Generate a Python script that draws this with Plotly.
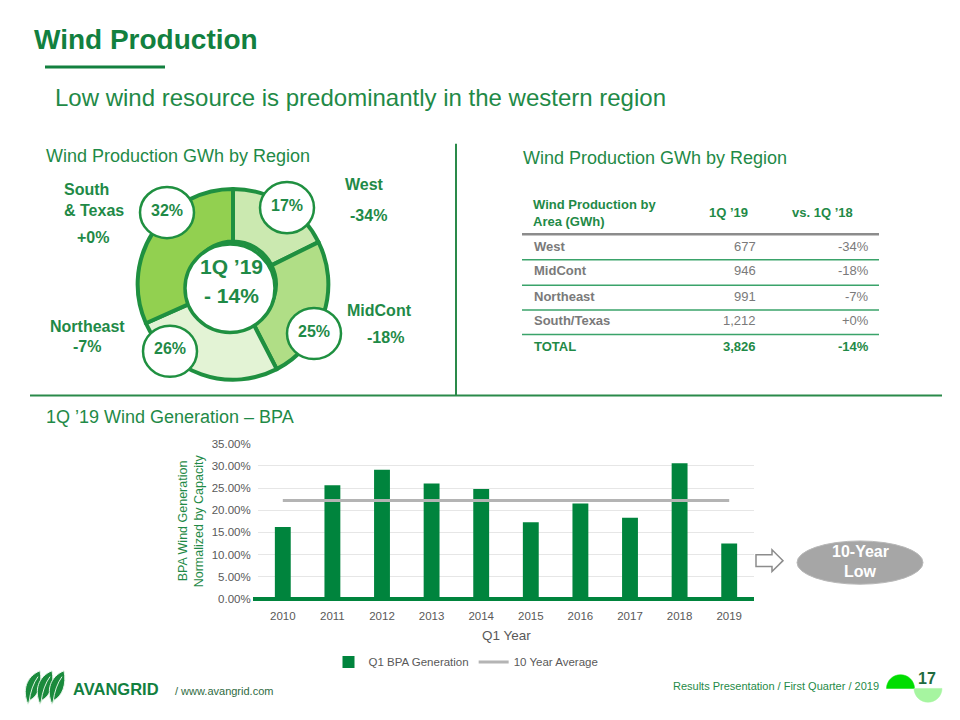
import plotly.graph_objects as go

# ---------------- data ----------------
years = ["2010", "2011", "2012", "2013", "2014", "2015", "2016", "2017", "2018", "2019"]
bpa_generation = [16.2, 25.6, 29.1, 26.0, 24.8, 17.3, 21.5, 18.3, 30.6, 12.5]
ten_year_average = [22.2, 22.2, 22.2, 22.2, 22.2, 22.2, 22.2, 22.2, 22.2, 22.2]

regions = ["West", "MidCont", "Northeast", "South/Texas"]
gwh_1q19 = [677, 946, 991, 1212]
gwh_1q19_labels = ["677", "946", "991", "1,212"]
vs_1q18 = ["-34%", "-18%", "-7%", "+0%"]
total_label = ["TOTAL", "3,826", "-14%"]
region_share_labels = ["17%", "25%", "26%", "32%"]
region_change_labels = ["-34%", "-18%", "-7%", "+0%"]
donut_region_names = ["West", "MidCont", "Northeast", "South<br>& Texas"]
pie_colors = ["#cbe9b0", "#b0de86", "#e3f3d5", "#92d050"]

# page body has an 8px margin; the figure is sized to fit the rest of the window
OFF = 8
W, H = 960 - OFF, 720 - OFF
FONT = "Liberation Sans, Arial, sans-serif"
GREEN = "#12803f"
TXTGREEN = "#1f8a47"
RING = "#1f9040"
GRAY = "#595959"


def px(x):
    return (x - OFF) / W


def py(y):
    return 1 - (y - OFF) / H


fig = go.Figure()

# ---------------- donut ----------------
cx, cy, R = 233, 283, 97
fig.add_trace(go.Pie(
    labels=regions, values=gwh_1q19, sort=False, direction="clockwise", rotation=0,
    hole=0.45, textinfo="none", hoverinfo="label+value+percent",
    marker=dict(colors=pie_colors, line=dict(color=RING, width=4)),
    domain=dict(x=[px(cx - R), px(cx + R)], y=[py(cy + R), py(cy - R)]),
    showlegend=False,
))

# ---------------- bar chart ----------------
fig.add_trace(go.Bar(
    x=years, y=bpa_generation, name="Q1 BPA Generation",
    marker=dict(color="#00843d", line=dict(width=0)), width=0.32,
))
fig.add_trace(go.Scatter(
    x=years, y=ten_year_average, name="10 Year Average", mode="lines",
    line=dict(color="#b4b4b4", width=3),
))

shapes = []
annotations = []


def text(x, y, s, size, color=TXTGREEN, bold=False, anchor="left", yanchor="middle", nudge=True, **kw):
    if bold:
        s = "<b>" + s + "</b>"
    if nudge:
        y = y - 0.15 * size
    annotations.append(dict(
        x=px(x), y=py(y), xref="paper", yref="paper", text=s, showarrow=False,
        xanchor=anchor, yanchor=yanchor, font=dict(family=FONT, size=size, color=color), **kw))


def line(x0, y0, x1, y1, color, width):
    shapes.append(dict(type="line", xref="paper", yref="paper", x0=px(x0), y0=py(y0),
                       x1=px(x1), y1=py(y1), line=dict(color=color, width=width), layer="above"))


def circle(x, y, rx, ry, fill, lc, lw):
    shapes.append(dict(type="circle", xref="paper", yref="paper", x0=px(x - rx), x1=px(x + rx),
                       y0=py(y + ry), y1=py(y - ry), fillcolor=fill,
                       line=dict(color=lc, width=lw), layer="above"))


def path(points_str, fill, lc, lw):
    shapes.append(dict(type="path", xref="paper", yref="paper", path=points_str,
                       fillcolor=fill, line=dict(color=lc, width=lw), layer="above"))


def P(x, y):
    return f"{px(x):.5f},{py(y):.5f}"


# title
text(32, 38, "Wind Production", 28, color=GREEN, bold=True)
line(45, 62, 165, 62, GREEN, 3)
text(53, 97, "Low wind resource is predominantly in the western region", 24, color=TXTGREEN)

# section headers
text(44, 155, "Wind Production GWh by Region", 18, color=TXTGREEN)
text(521, 157, "Wind Production GWh by Region", 18, color=TXTGREEN)
text(44, 421, "1Q \u201919 Wind Generation \u2013 BPA", 18, color=TXTGREEN)

# dividers
line(456, 140, 456, 396, "#2a8a4a", 2)
line(30, 396, 942, 396, "#2a8a4a", 2)

# donut center circle and bubbles
circle(230, 287, 45, 45, "white", RING, 3.5)
text(231, 268, "1Q \u201919", 21, color=TXTGREEN, bold=True, anchor="center")
text(231, 297, "- 14%", 21, color=TXTGREEN, bold=True, anchor="center")

bubble_pos = [(287, 205), (314, 333), (170, 351), (167, 210)]
for (bx, by), lab in zip(bubble_pos, region_share_labels):
    circle(bx, by, 27, 26, "white", RING, 2.5)
    text(bx, by, lab, 16, color=TXTGREEN, bold=True, anchor="center")

# region names and changes around donut
text(343, 184, donut_region_names[0], 16, bold=True)
text(348, 215, region_change_labels[0], 16, bold=True)
text(345, 312, donut_region_names[1], 16, bold=True)
text(385, 339, region_change_labels[1], 16, bold=True, anchor="center")
text(87, 328, donut_region_names[2], 16, bold=True, anchor="center")
text(87, 349, region_change_labels[2], 16, bold=True, anchor="center")
text(62, 200, donut_region_names[3], 16, bold=True, align="left")
text(93, 238, region_change_labels[3], 16, bold=True, anchor="center")

# ---------------- table ----------------
text(531, 212, "Wind Production by<br>Area (GWh)", 13, bold=True, align="left")
text(728, 212, "1Q \u201919", 13, bold=True, anchor="center")
text(822, 212, "vs. 1Q \u201918", 13, bold=True, anchor="center")
line(522, 232, 879, 232, "#8c8c8c", 2.5)
row_y = [246, 271, 297, 322]
sep_y = [258, 284, 309, 334]
TGRAY = "#7a7a7a"
for r, yv, lab, chg, sy in zip(regions, row_y, gwh_1q19_labels, vs_1q18, sep_y):
    text(532, yv, r, 13, color=TGRAY, bold=True)
    text(758, yv, lab, 13, color=TGRAY, anchor="right")
    text(871, yv, chg, 13, color=TGRAY, anchor="right")
    line(522, sy, 879, sy, "#3aa36a", 1.5)
text(532, 348, total_label[0], 13, bold=True)
text(758, 348, total_label[1], 13, bold=True, anchor="right")
text(871, 348, total_label[2], 13, bold=True, anchor="right")

# ---------------- bar chart extras ----------------
text(183, 524, "BPA Wind Generation", 12.5, color=TXTGREEN, anchor="center", textangle=-90, nudge=False)
text(199, 524, "Normalized by Capacity", 12.5, color=TXTGREEN, anchor="center", textangle=-90, nudge=False)
text(506, 642, "Q1 Year", 13.5, color=GRAY, anchor="center")
line(253, 603, 754, 603, "#00843d", 4)

# arrow + oval
path("M" + P(756, 558) + "L" + P(772, 558) + "L" + P(772, 553) + "L" + P(783, 564) + "L" + P(772, 575)
     + "L" + P(772, 570) + "L" + P(756, 570) + "Z", "white", "#8c8c8c", 1.5)
circle(860, 566, 63, 22, "#a6a6a6", "#b8b8b8", 1)
text(860, 557, "10-Year", 16, color="white", bold=True, anchor="center")
text(860, 577, "Low", 16, color="white", bold=True, anchor="center")

# ---------------- footer ----------------
leaf_x = [28, 40, 52]
for lx in leaf_x:
    bx, by = lx, 710
    tx, ty = lx + 12, 676
    path("M" + P(bx, by) + "C" + P(bx - 6, by - 14) + " " + P(tx - 14, ty + 6) + " " + P(tx, ty)
         + "C" + P(tx + 3, ty + 14) + " " + P(bx + 10, by - 8) + " " + P(bx + 2, by - 4) + "Z",
         "#1a8a3c", "#e8f5ea", 1)
    # leaf vein
    path("M" + P(bx + 1, by - 2) + "Q" + P(bx + 3, by - 18) + " " + P(tx - 2, ty + 6),
         "rgba(0,0,0,0)", "#dff2e2", 1)
text(71, 697, "AVANGRID", 16.5, color="#12803f", bold=True)
text(173, 698, "/ www.avangrid.com", 11, color="#2f6b3f")
text(881, 693, "Results Presentation / First Quarter / 2019", 11, color=TXTGREEN, anchor="right")


def semi(cxs, cys, r, up, fill):
    k = 0.5523 * r
    s = -1 if up else 1
    d = ("M" + P(cxs - r, cys) + "C" + P(cxs - r, cys + s * k) + " " + P(cxs - k, cys + s * r) + " "
         + P(cxs, cys + s * r) + "C" + P(cxs + k, cys + s * r) + " " + P(cxs + r, cys + s * k) + " "
         + P(cxs + r, cys) + "Z")
    path(d, fill, fill, 0.5)


semi(900.5, 694, 14, True, "#00dd00")
semi(928, 694, 14, False, "#a6f5a0")
text(927, 686, "17", 16, color="#1f6b3f", bold=True, anchor="center")

fig.update_layout(
    width=W, height=H, autosize=False,
    margin=dict(l=0, r=0, t=0, b=0),
    paper_bgcolor="white", plot_bgcolor="white",
    font=dict(family=FONT, color=GRAY),
    shapes=shapes, annotations=annotations,
    bargap=0.68,
    xaxis=dict(domain=[px(258), px(754)], type="category", showgrid=False, showline=False,
               tickfont=dict(size=11.5, color=GRAY), ticks="", ticklabelstandoff=9,
               zeroline=False),
    yaxis=dict(domain=[py(603), py(445)], range=[0, 35], dtick=5, tickformat=".2f", ticksuffix="%",
               showgrid=True, gridcolor="#e6e6e6", gridwidth=1, zeroline=False, showline=False,
               tickfont=dict(size=11.5, color=GRAY), ticks="outside", ticklen=4,
               tickcolor="rgba(0,0,0,0)"),
    legend=dict(orientation="h", x=px(466), xanchor="center", y=py(667), yanchor="middle",
                font=dict(size=11.5, color=GRAY), bgcolor="rgba(0,0,0,0)", itemwidth=30,
                traceorder="normal"),
)

fig.write_html("out.html")
